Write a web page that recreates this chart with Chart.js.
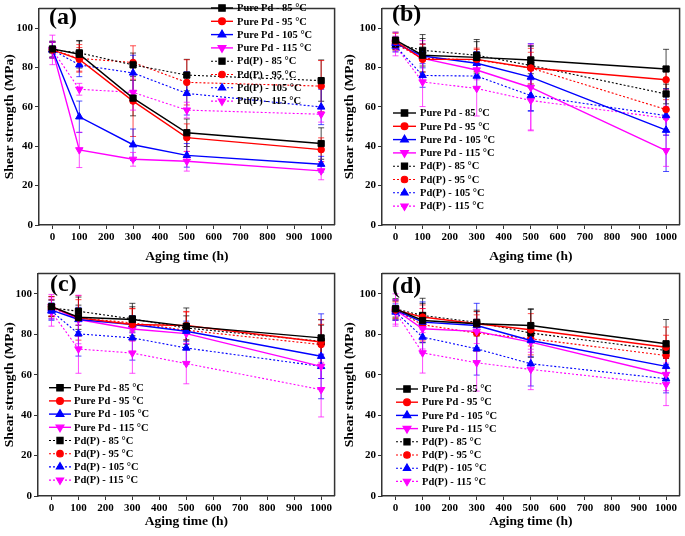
<!DOCTYPE html>
<html>
<head>
<meta charset="utf-8">
<script src="https://cdn.jsdelivr.net/npm/chart.js@4/dist/chart.umd.min.js"></script>
<style>
  body { margin: 0; background: #fff; width: 685px; height: 536px; position: relative; overflow: hidden; }
  canvas { position: absolute; }
</style>
</head>
<body>
<canvas id="chartA" width="340" height="265" style="left:0;top:0"></canvas>
<canvas id="chartB" width="345" height="265" style="left:340px;top:0"></canvas>
<canvas id="chartC" width="340" height="265" style="left:0;top:265px"></canvas>
<canvas id="chartD" width="345" height="265" style="left:340px;top:265px"></canvas>
<script>
// aging time (h)
const agingTimes = [0, 100, 300, 500, 1000];
const xTicks = [0, 100, 200, 300, 400, 500, 600, 700, 800, 900, 1000];
const yTicks = [0, 20, 40, 60, 80, 100];

const seriesLabels = [
  "Pure Pd - 85 °C", "Pure Pd - 95 °C", "Pure Pd - 105 °C", "Pure Pd - 115 °C",
  "Pd(P) - 85 °C", "Pd(P) - 95 °C", "Pd(P) - 105 °C", "Pd(P) - 115 °C"
];

// shear strength (MPa), one row per series
const valuesA = [
  [89.5, 86.8, 64.5, 46.9, 41.4],
  [89, 84.2, 63, 44.4, 38.3],
  [89, 55, 40.8, 35.4, 30.9],
  [89, 38.2, 33.4, 32.4, 27.5],
  [89, 87.5, 81.4, 76.2, 73.4],
  [89, 84.7, 82.6, 72.5, 70.6],
  [89, 81.4, 77.3, 66.9, 60],
  [89, 69, 67.4, 58.4, 56.3]
];
const errorsA = [
  [4, 7, 9, 7, 8],
  [4, 6, 18, 7, 6],
  [4, 8, 8, 6, 4],
  [7.5, 9, 3.5, 5, 4.5],
  [4, 6, 6, 8, 10.5],
  [4, 7, 8.5, 11.5, 13],
  [4, 6, 9, 11, 9],
  [4, 3, 9, 4, 4]
];

const valuesB = [
  [94, 86.3, 85.2, 83.9, 79.3],
  [93.4, 84.2, 84.2, 79.8, 73.8],
  [92.3, 85.9, 82.2, 75.2, 48.2],
  [93, 84.7, 78.8, 69.9, 37.8],
  [92, 88.8, 86.3, 81.1, 66.6],
  [92, 84.7, 83.9, 79.8, 58.7],
  [91, 76, 75.7, 65.8, 55.6],
  [91, 72.7, 69.4, 63.3, 54.3]
];
const errorsB = [
  [4, 8.5, 8, 7, 10],
  [4, 8, 5, 10, 5],
  [3, 6, 6, 17, 21],
  [5, 9, 5, 22, 8],
  [3, 8, 8, 10, 5],
  [3, 7, 6, 8, 5],
  [3, 6, 6, 8, 10],
  [5, 12.5, 14, 15, 6]
];

const valuesC = [
  [93.7, 88.4, 87.3, 84, 78.2],
  [93.7, 88.1, 84.8, 84.3, 76.2],
  [91.9, 87.3, 84.8, 81.5, 69.1],
  [93.7, 87.3, 82.6, 80.3, 64.1],
  [93, 91.4, 87.6, 83.1, 76.5],
  [93, 88.1, 85.6, 82, 74.9],
  [91.5, 80.2, 78.2, 73.2, 64.1],
  [91, 72.7, 70.7, 65.5, 52.6]
];
const errorsC = [
  [5, 6, 8, 9, 9],
  [5, 11, 8, 7, 11],
  [5, 6, 4, 5, 21],
  [6, 12, 6, 5, 6],
  [4, 7, 6, 6, 8],
  [4, 9, 7, 9, 10],
  [4, 11, 11, 8, 6],
  [7, 12, 10, 10, 13.5]
];

const valuesD = [
  [92.6, 86.8, 85.2, 84.3, 75.3],
  [92, 88.5, 85.2, 82.2, 73.6],
  [92, 86, 84.3, 76.9, 64.1],
  [92, 82.7, 81.4, 76.1, 60.1],
  [92.5, 89.3, 85.9, 80.6, 72],
  [92, 84.7, 80.6, 77.8, 69.5],
  [91, 78.6, 72.8, 65.4, 58],
  [91, 70.8, 65.9, 62.6, 55.2]
];
const errorsD = [
  [5, 11, 6, 8, 12],
  [5, 6, 6, 8, 10],
  [5, 10, 11, 8, 6],
  [8, 10, 6, 5, 8],
  [4, 6, 6, 12, 4],
  [4, 8, 9, 8, 10],
  [4, 8, 13, 11, 7],
  [6, 10, 14, 10, 10.5]
];

const colors = ["#000000", "#ff0000", "#0000ff", "#ff00ff"];
const markers = [
  { style: "rect", rot: 0, r: 4.4 },
  { style: "circle", rot: 0, r: 3.3 },
  { style: "triangle", rot: 0, r: 4.3 },
  { style: "triangle", rot: 180, r: 4.3 }
];

const SERIF = "'Liberation Serif', 'Times New Roman', serif";

const frameAndErrors = {
  id: "frameAndErrors",
  beforeDatasetsDraw(chart) {
    const ctx = chart.ctx;
    const y = chart.scales.y;
    const a = chart.chartArea;
    ctx.save();
    ctx.beginPath();
    ctx.rect(a.left, a.top, a.right - a.left, a.bottom - a.top);
    ctx.clip();
    chart.data.datasets.forEach((ds, i) => {
      const meta = chart.getDatasetMeta(i);
      ctx.strokeStyle = ds.borderColor;
      ctx.globalAlpha = 0.7;
      ctx.lineWidth = 1;
      ds.errors.forEach((e, j) => {
        const pt = meta.data[j];
        const top = y.getPixelForValue(ds.data[j] + e);
        const bot = y.getPixelForValue(ds.data[j] - e);
        ctx.beginPath();
        ctx.moveTo(pt.x, top); ctx.lineTo(pt.x, bot);
        ctx.moveTo(pt.x - 3, top); ctx.lineTo(pt.x + 3, top);
        ctx.moveTo(pt.x - 3, bot); ctx.lineTo(pt.x + 3, bot);
        ctx.stroke();
      });
    });
    ctx.restore();
  },
  afterDraw(chart) {
    const ctx = chart.ctx;
    const a = chart.chartArea;
    const p = chart.options.plugins.frameAndErrors;
    ctx.save();
    // top and right sides of the box
    ctx.strokeStyle = "#333";
    ctx.lineWidth = 1.5;
    ctx.beginPath();
    ctx.moveTo(a.left, a.top); ctx.lineTo(a.right, a.top); ctx.lineTo(a.right, a.bottom);
    ctx.stroke();
    // panel letter
    ctx.fillStyle = "#000";
    ctx.font = "bold 24px " + SERIF;
    ctx.textBaseline = "middle";
    ctx.textAlign = "left";
    ctx.fillText(p.letter, p.letterX, p.letterY);
    // legend
    const lg = p.legend;
    ctx.font = "bold 10.5px " + SERIF;
    chart.data.datasets.forEach((ds, i) => {
      const yy = lg.y + i * lg.dy;
      ctx.strokeStyle = ds.borderColor;
      ctx.fillStyle = ds.borderColor;
      ctx.lineWidth = ds.borderWidth;
      ctx.setLineDash(ds.borderDash || []);
      ctx.beginPath();
      ctx.moveTo(lg.x1, yy); ctx.lineTo(lg.x2, yy);
      ctx.stroke();
      ctx.setLineDash([]);
      Chart.helpers.drawPoint(ctx, {
        pointStyle: ds.pointStyle, rotation: ds.pointRotation,
        radius: ds.pointRadius, borderWidth: 1
      }, (lg.x1 + lg.x2) / 2, yy);
      ctx.fillStyle = "#000";
      ctx.fillText(ds.label, lg.tx, yy + 0.5);
    });
    ctx.restore();
  }
};

function makeChart(id, values, errors, panel) {
  const datasets = values.map((row, i) => {
    const c = colors[i % 4];
    const m = markers[i % 4];
    const dotted = i >= 4;
    return {
      label: seriesLabels[i],
      data: row,
      errors: errors[i],
      borderColor: c,
      backgroundColor: c,
      borderWidth: dotted ? 1.1 : 1.4,
      borderDash: dotted ? [2, 2] : [],
      pointStyle: m.style,
      pointRotation: m.rot,
      pointRadius: m.r,
      pointBorderWidth: 1,
      tension: 0
    };
  });

  new Chart(document.getElementById(id), {
    type: "line",
    data: { labels: agingTimes, datasets: datasets },
    options: {
      responsive: false,
      animation: false,
      layout: { padding: { top: panel.padTop, right: panel.padRight, left: 0, bottom: 0 } },
      plugins: {
        legend: { display: false },
        tooltip: { enabled: false },
        frameAndErrors: panel
      },
      scales: {
        x: {
          type: "linear",
          min: -50,
          max: 1050,
          afterBuildTicks: (axis) => { axis.ticks = xTicks.map(v => ({ value: v })); },
          afterFit: (axis) => { axis.height = panel.xHeight; },
          grid: { drawOnChartArea: false, tickLength: 4, color: "#333" },
          border: { color: "#333", width: 1.5 },
          ticks: {
            color: "#000", padding: 2, maxRotation: 0,
            callback: (v) => String(v),
            font: { family: SERIF, weight: "bold", size: 11 }
          },
          title: {
            display: true, text: "Aging time (h)", color: "#000",
            padding: { top: 0, bottom: 0 },
            font: { family: SERIF, weight: "bold", size: 13.5 }
          }
        },
        y: {
          min: 0,
          max: 110,
          afterBuildTicks: (axis) => { axis.ticks = yTicks.map(v => ({ value: v })); },
          afterFit: (axis) => { axis.width = panel.yWidth; },
          grid: { drawOnChartArea: false, tickLength: 4, color: "#333" },
          border: { color: "#333", width: 1.5 },
          ticks: {
            color: "#000", padding: 2,
            callback: (v) => String(v),
            font: { family: SERIF, weight: "bold", size: 11 }
          },
          title: {
            display: true, text: "Shear strength (MPa)", color: "#000",
            padding: { top: 1, bottom: 0 },
            font: { family: SERIF, weight: "bold", size: 13.5 }
          }
        }
      }
    },
    plugins: [frameAndErrors]
  });
}

makeChart("chartA", valuesA, errorsA, {
  padTop: 3, padRight: 2, yWidth: 39, xHeight: 40,
  letter: "(a)", letterX: 49, letterY: 18,
  legend: { x1: 211, x2: 233, tx: 237, y: 8, dy: 13.3 }
});
makeChart("chartB", valuesB, errorsB, {
  padTop: 3, padRight: 3, yWidth: 42, xHeight: 40,
  letter: "(b)", letterX: 52, letterY: 15,
  legend: { x1: 53, x2: 76, tx: 80, y: 113, dy: 13.3 }
});
makeChart("chartC", valuesC, errorsC, {
  padTop: 7, padRight: 1, yWidth: 38, xHeight: 34,
  letter: "(c)", letterX: 50, letterY: 20,
  legend: { x1: 49, x2: 71, tx: 74, y: 122.7, dy: 13.2 }
});
makeChart("chartD", valuesD, errorsD, {
  padTop: 7, padRight: 3, yWidth: 42, xHeight: 34,
  letter: "(d)", letterX: 52, letterY: 22,
  legend: { x1: 56, x2: 78, tx: 82, y: 124, dy: 13.2 }
});
</script>
</body>
</html>
